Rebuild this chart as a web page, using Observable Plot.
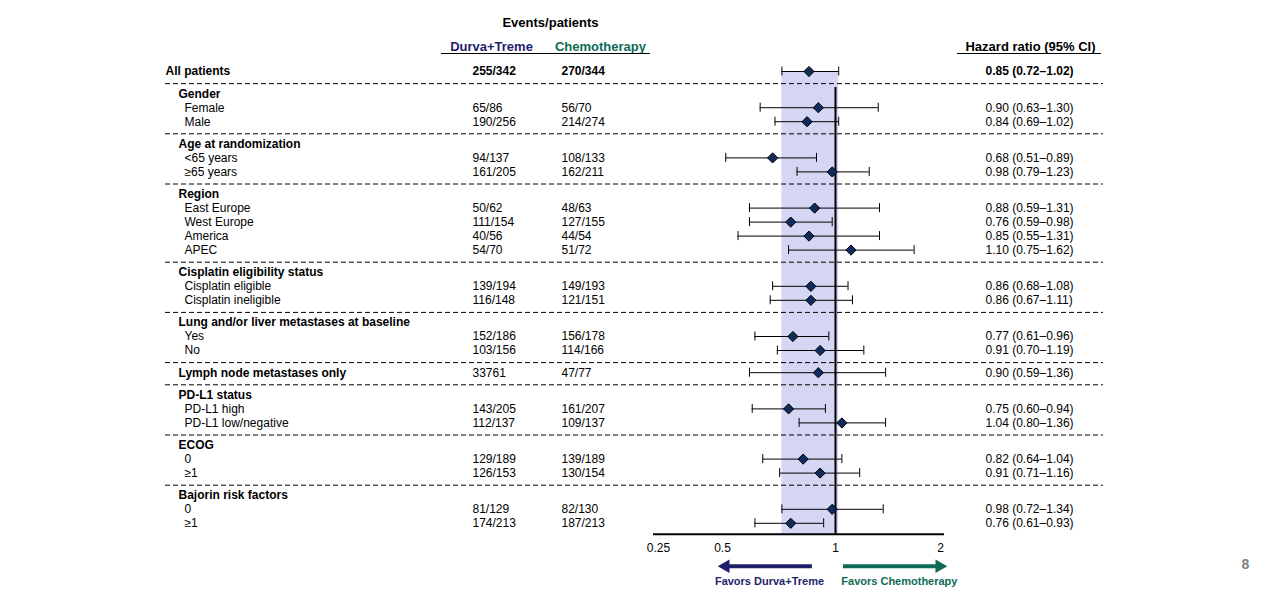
<!DOCTYPE html>
<html>
<head>
<meta charset="utf-8">
<script src="https://cdn.jsdelivr.net/npm/d3@7"></script>
<script src="https://cdn.jsdelivr.net/npm/@observablehq/plot@0.6"></script>
<style>
  html, body { margin: 0; padding: 0; background: #fff; }
  #chart { width: 1280px; height: 594px; }
</style>
</head>
<body>
<div id="chart"></div>
<script>
// ---------- data ----------
const subgroups = ["All patients", "Gender", "Female", "Male", "Age at randomization", "<65 years", "≥65 years",
  "Region", "East Europe", "West Europe", "America", "APEC",
  "Cisplatin eligibility status", "Cisplatin eligible", "Cisplatin ineligible",
  "Lung and/or liver metastases at baseline", "Yes", "No",
  "Lymph node metastases only",
  "PD-L1 status", "PD-L1 high", "PD-L1 low/negative",
  "ECOG", "0", "≥1",
  "Bajorin risk factors", "0", "≥1"];
const rowKinds = ["overall", "header", "item", "item", "header", "item", "item",
  "header", "item", "item", "item", "item",
  "header", "item", "item",
  "header", "item", "item",
  "single",
  "header", "item", "item",
  "header", "item", "item",
  "header", "item", "item"];
const durvaEvents = ["255/342", "", "65/86", "190/256", "", "94/137", "161/205",
  "", "50/62", "111/154", "40/56", "54/70",
  "", "139/194", "116/148",
  "", "152/186", "103/156",
  "33761",
  "", "143/205", "112/137",
  "", "129/189", "126/153",
  "", "81/129", "174/213"];
const chemoEvents = ["270/344", "", "56/70", "214/274", "", "108/133", "162/211",
  "", "48/63", "127/155", "44/54", "51/72",
  "", "149/193", "121/151",
  "", "156/178", "114/166",
  "47/77",
  "", "161/207", "109/137",
  "", "139/189", "130/154",
  "", "82/130", "187/213"];
const hazardRatio = [0.85, null, 0.90, 0.84, null, 0.68, 0.98,
  null, 0.88, 0.76, 0.85, 1.10,
  null, 0.86, 0.86,
  null, 0.77, 0.91,
  0.90,
  null, 0.75, 1.04,
  null, 0.82, 0.91,
  null, 0.98, 0.76];
const ciLower = [0.72, null, 0.63, 0.69, null, 0.51, 0.79,
  null, 0.59, 0.59, 0.55, 0.75,
  null, 0.68, 0.67,
  null, 0.61, 0.70,
  0.59,
  null, 0.60, 0.80,
  null, 0.64, 0.71,
  null, 0.72, 0.61];
const ciUpper = [1.02, null, 1.30, 1.02, null, 0.89, 1.23,
  null, 1.31, 0.98, 1.31, 1.62,
  null, 1.08, 1.11,
  null, 0.96, 1.19,
  1.36,
  null, 0.94, 1.36,
  null, 1.04, 1.16,
  null, 1.34, 0.93];
const tickValues = [0.25, 0.5, 1, 2];
const armLabels = ["Durva+Treme", "Chemotherapy"];
const favorsLabels = ["Favors Durva+Treme", "Favors Chemotherapy"];

// ---------- styling / layout ----------
const NAVY = "#1f1f6b", GREEN = "#0d6b56", DIAMOND = "#0f2c5c", BAND = "#d5d6f3";
const FONT = "'Liberation Sans', Arial, Helvetica, sans-serif";
const STEP = 14, GAP = 22.2;

// rows with vertical offsets (layout)
let cur = 0;
const rows = [];
const separators = [];
subgroups.forEach((label, i) => {
  const kind = rowKinds[i];
  if (i > 0) {
    if (kind === "header" || kind === "single") { separators.push(cur + GAP / 2 + 1); cur += GAP; }
    else cur += STEP;
  }
  const hr = hazardRatio[i];
  rows.push({
    label, kind, y: cur,
    durva: durvaEvents[i], chemo: chemoEvents[i],
    hr, lo: ciLower[i], hi: ciUpper[i],
    hrText: hr == null ? "" : `${hr.toFixed(2)} (${ciLower[i].toFixed(2)}–${ciUpper[i].toFixed(2)})`
  });
});
const lastY = cur;
const axisY = lastY + 11;
const dataRows = rows.filter(d => d.hr != null);
const overall = rows[0];

const favors = [
  {label: favorsLabels[0], tail: 0.868, tip: 0.469, at: 0.667, color: NAVY},
  {label: favorsLabels[1], tail: 1.05, tip: 2.16, at: 1.48, color: GREEN}
];

const bold = {fontWeight: "bold"};
const chart = Plot.plot({
  width: 1280,
  height: 594,
  marginLeft: 165,
  marginRight: 177,
  marginTop: 0,
  marginBottom: 60,
  style: {fontFamily: FONT, fontSize: "12px", background: "white", color: "black", overflow: "visible"},
  x: {type: "log", domain: [0.25, 0.5, 1.75, 2], range: [658, 722, 926.2, 940], axis: null},
  y: {type: "linear", domain: [0, lastY], range: [71, 71 + lastY], axis: null},
  marks: [
    // shaded band for overall CI
    Plot.rect([overall], {x1: "lo", x2: "hi", y1: 0, y2: axisY, fill: BAND}),
    // dashed separators
    Plot.ruleY(separators, {stroke: "black", strokeWidth: 1, strokeDasharray: "5,3"}),
    // line of no effect
    Plot.ruleX([1], {y1: separators[0] + 4, y2: axisY, stroke: "black", strokeWidth: 2}),
    // confidence intervals
    Plot.ruleY(dataRows, {y: "y", x1: "lo", x2: "hi", stroke: "black", strokeWidth: 1}),
    Plot.ruleX(dataRows, {x: "lo", y1: d => d.y - 4.5, y2: d => d.y + 4.5, stroke: "black", strokeWidth: 1}),
    Plot.ruleX(dataRows, {x: "hi", y1: d => d.y - 4.5, y2: d => d.y + 4.5, stroke: "black", strokeWidth: 1}),
    Plot.dot(dataRows, {x: "hr", y: "y", symbol: "diamond2", r: 4.6, fill: DIAMOND, stroke: "black", strokeWidth: 1}),
    // x axis
    Plot.ruleY([axisY], {insetLeft: 488, insetRight: 159, stroke: "black", strokeWidth: 2}),
    Plot.axisX({ticks: tickValues, tickSize: 0, tickPadding: 9, tickFormat: d => String(d), label: null, fontSize: 12}),
    // favors arrows
    Plot.ruleY(favors.slice(0, 1), {y: axisY + 32, x1: "tip", x2: "tail", stroke: "color", strokeWidth: 4, insetLeft: 9}),
    Plot.ruleY(favors.slice(1), {y: axisY + 32, x1: "tail", x2: "tip", stroke: "color", strokeWidth: 4, insetRight: 9}),
    Plot.dot(favors.slice(0, 1), {x: "tip", y: axisY + 32, symbol: "triangle2", rotate: -90, r: 6.5, fill: "color", dx: 9}),
    Plot.dot(favors.slice(1), {x: "tip", y: axisY + 32, symbol: "triangle2", rotate: 90, r: 6.5, fill: "color", dx: -9}),
    Plot.text(favors, {x: "at", y: axisY + 47, text: "label", fill: "color", fontWeight: "bold", fontSize: 11, textAnchor: "middle"}),
    // column headers
    Plot.text(["Events/patients"], {frameAnchor: "left", dx: 385, y: -49, textAnchor: "middle", fontSize: 13, ...bold}),
    Plot.text([armLabels[0]], {frameAnchor: "left", dx: 326, y: -25, textAnchor: "middle", fontSize: 13, fill: NAVY, ...bold}),
    Plot.text([armLabels[1]], {frameAnchor: "left", dx: 435, y: -25, textAnchor: "middle", fontSize: 13, fill: GREEN, ...bold}),
    Plot.text(["Hazard ratio (95% CI)"], {frameAnchor: "left", dx: 865, y: -25, textAnchor: "middle", fontSize: 13, ...bold}),
    Plot.ruleY([-18], {insetLeft: 276, insetRight: 453, stroke: "black", strokeWidth: 1}),
    Plot.ruleY([-18], {insetLeft: 792, insetRight: 2, stroke: "black", strokeWidth: 1}),
    // subgroup labels
    Plot.text(rows.filter(d => d.kind === "overall"), {frameAnchor: "left", dx: 0, y: "y", text: "label", textAnchor: "start", ...bold}),
    Plot.text(rows.filter(d => d.kind === "header" || d.kind === "single"), {frameAnchor: "left", dx: 13, y: "y", text: "label", textAnchor: "start", ...bold}),
    Plot.text(rows.filter(d => d.kind === "item"), {frameAnchor: "left", dx: 19, y: "y", text: "label", textAnchor: "start"}),
    // events columns
    Plot.text(rows.filter(d => d.kind === "overall"), {frameAnchor: "left", dx: 307, y: "y", text: "durva", textAnchor: "start", ...bold}),
    Plot.text(rows.filter(d => d.kind === "overall"), {frameAnchor: "left", dx: 396, y: "y", text: "chemo", textAnchor: "start", ...bold}),
    Plot.text(rows.filter(d => d.kind !== "overall" && d.durva), {frameAnchor: "left", dx: 307, y: "y", text: "durva", textAnchor: "start"}),
    Plot.text(rows.filter(d => d.kind !== "overall" && d.chemo), {frameAnchor: "left", dx: 396, y: "y", text: "chemo", textAnchor: "start"}),
    // HR column
    Plot.text(rows.filter(d => d.kind === "overall"), {frameAnchor: "left", dx: 820, y: "y", text: "hrText", textAnchor: "start", ...bold}),
    Plot.text(rows.filter(d => d.kind !== "overall" && d.hrText), {frameAnchor: "left", dx: 820, y: "y", text: "hrText", textAnchor: "start"}),
    // page number
    Plot.text(["8"], {frameAnchor: "right", dx: 142, y: 493, textAnchor: "middle", fontSize: 14, fill: "#7f7f7f", ...bold})
  ]
});
document.getElementById("chart").appendChild(chart);
</script>
</body>
</html>
